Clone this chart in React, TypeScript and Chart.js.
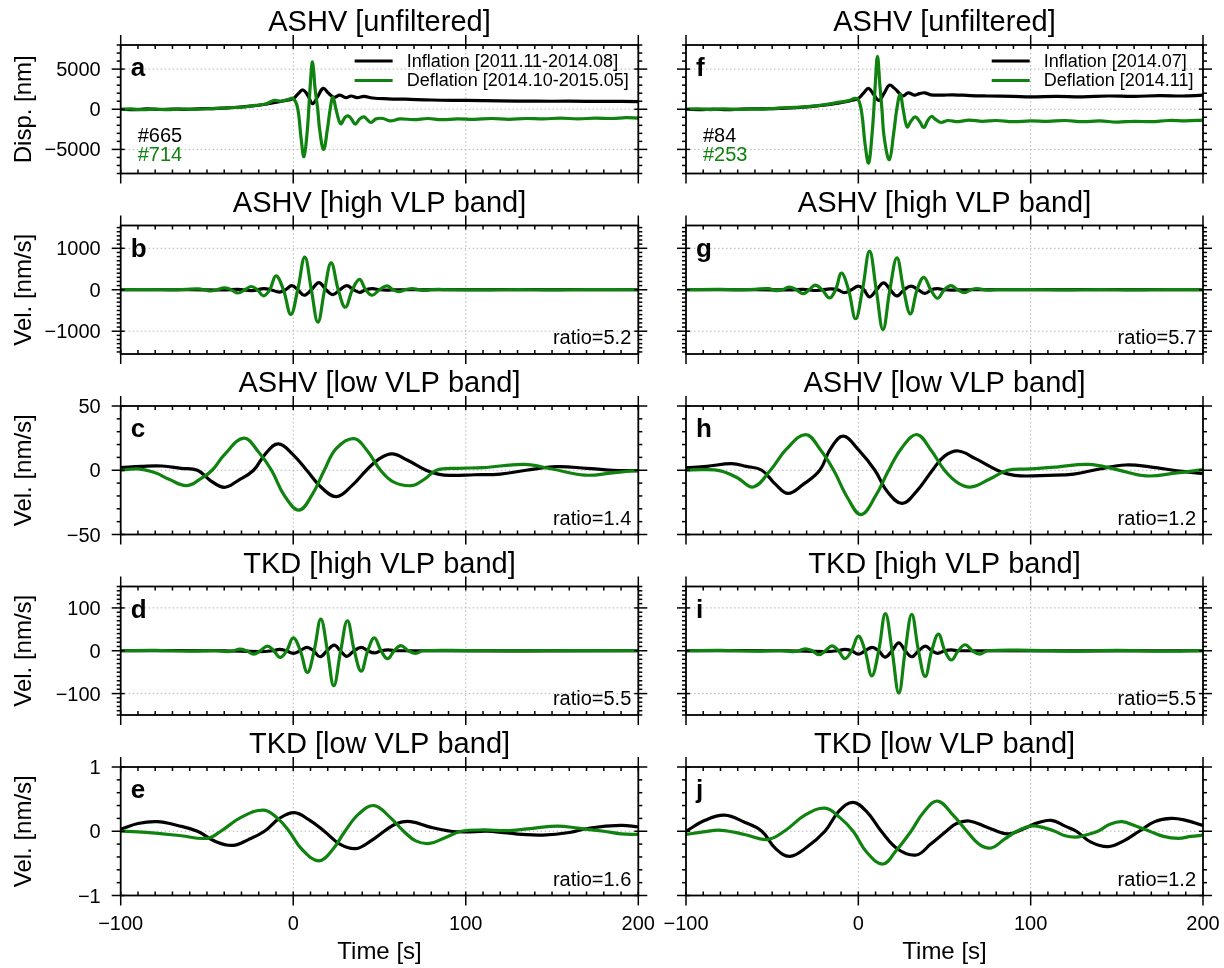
import React, { useEffect, useRef } from 'react';
import { Chart, registerables } from 'chart.js';

Chart.register(...registerables);

const W = 1224;
const H = 968;
const FONT = "'Liberation Sans', Arial, Helvetica, sans-serif";
const BLACK = '#000000';
const GREEN = '#0f820f';
const GRID = '#b5b5b5';
const LINE_W = 3.2;

// ---------- axes / ticks ----------
const timeMin = -100;
const timeMax = 200;
const timeTicks = [-100, 0, 100, 200];
const timeTickLabels = ['−100', '0', '100', '200'];
const timeMinorStep = 10;

const rowYLim = [8000, 1550, 50, 150, 1];
const rowYTicks = [[-5000, 0, 5000], [-1000, 0, 1000], [-50, 0, 50], [-100, 0, 100], [-1, 0, 1]];
const rowYTickLabels = [['−5000', '0', '5000'], ['−1000', '0', '1000'], ['−50', '0', '50'], ['−100', '0', '100'], ['−1', '0', '1']];
const rowYMinor = [1000, 100, 10, 10, 0.2];
const rowYLabel = ['Disp. [nm]', 'Vel. [nm/s]', 'Vel. [nm/s]', 'Vel. [nm/s]', 'Vel. [nm/s]'];

// ---------- data: [time s, value] ----------
const aInflation = [[-100,0],[-92,-60],[-85,40],[-78,-30],[-70,30],[-62,-20],[-55,50],[-48,80],[-40,140],[-32,250],[-25,380],[-18,560],[-12,780],[-6,1020],[0,1330],[2.5,1850],[5.6,2400],[8.5,1700],[11.2,700],[14,1500],[17.3,2600],[20.5,2000],[23.5,1500],[27,1750],[30.5,1450],[33.5,1650],[37,1450],[41,1600],[46,1400],[55,1300],[65,1250],[80,1150],[100,1100],[120,1050],[140,1000],[160,1000],[180,980],[200,960]];
const aDeflation = [[-100,0],[-94,50],[-87,-60],[-80,20],[-73,-50],[-66,30],[-58,-10],[-50,60],[-42,130],[-35,220],[-28,300],[-22,480],[-16,650],[-11,1100],[-7,1000],[-3,1200],[0,1350],[2.5,200],[4.5,-3500],[6.2,-5900],[8,-3000],[9,0],[9.8,2800],[11.2,5900],[12.7,2500],[14.2,0],[15.3,-2500],[17.6,-5000],[19.8,-2500],[21.4,0],[23,1500],[25,-200],[27.5,-1800],[30,-1000],[32,-830],[34,-1300],[36,-1850],[38.5,-1200],[41,-950],[43,-1300],[45,-1650],[48,-1200],[52,-1150],[56,-1450],[62,-1200],[70,-1300],[78,-1150],[86,-1300],[95,-1200],[105,-1250],[115,-1150],[125,-1250],[135,-1150],[145,-1200],[155,-1100],[165,-1200],[175,-1100],[185,-1150],[193,-1050],[200,-1100]];

const bInflation = [[-100,0],[-60,0],[-40,-5],[-32,10],[-24,-20],[-17,25],[-13,0],[-8,-55],[-4.5,0],[-0.8,100],[2.7,0],[6.3,-133],[10.5,0],[14.9,172],[19,0],[23,-117],[27,0],[31,100],[35,0],[38.5,-62],[42,0],[46,25],[50,0],[54,-10],[60,0],[200,0]];
const bDeflation = [[-100,0],[-80,5],[-70,-5],[-62,10],[-55,20],[-51.5,0],[-48,-30],[-44,0],[-40,47],[-36,0],[-32,-78],[-28,0],[-24.3,78],[-20.8,0],[-17.3,-148],[-13.6,0],[-10,336],[-5.7,0],[-1.4,-594],[2.6,0],[6.7,789],[10.5,0],[14.3,-781],[18.2,0],[22,648],[26.1,0],[30.2,-422],[34.3,0],[38.4,250],[42,0],[45.7,-133],[50,0],[54.3,94],[57.7,0],[61.2,-47],[65,0],[69,30],[72.5,0],[76,-15],[80,0],[84,8],[90,0],[110,-5],[130,5],[150,-5],[170,5],[200,0]];

const cInflation = [[-100,2],[-88,3],[-76,3.3],[-65,1.5],[-55.5,0],[-48,-8],[-40,-13.3],[-32,-8],[-23,0],[-16,13],[-8.6,20.5],[0,12],[7.8,0],[16,-13],[25,-20.5],[34,-12],[42.4,0],[50,9],[57.3,12.8],[66,8],[77,0],[84,-3],[91,-4],[105,-3.5],[120,-3],[135,0],[152.6,2.8],[170,1.5],[185,0],[200,-0.5]];
const cDeflation = [[-100,0],[-90,1],[-80,-2],[-72,-7],[-62,-12],[-54,-7],[-47,0],[-40,12],[-28.6,25],[-20,14],[-12.6,0],[-5,-20],[3.3,-31],[11,-19],[18,0],[25,17],[35.3,24.6],[43,15],[50.6,0],[58,-9],[68.6,-12],[76,-7],[83,0],[95,1.5],[110,2],[134,4.6],[150,1],[169,-3.8],[185,-2],[200,0]];

const dInflation = [[-100,0],[-40,0],[-20,-2],[-12,0],[-8,3],[-4,0],[0,-6],[4,0],[8,8],[11.8,0],[15.5,-14],[19.6,0],[23.7,13],[27.3,0],[31,-13],[35.2,0],[39.4,8],[43.2,0],[47,-5],[51,0],[55,2],[60,0],[200,0]];
const dDeflation = [[-100,0],[-80,1],[-60,-1],[-45,0],[-38,-2],[-34.5,0],[-31,4],[-27,0],[-23,-8],[-19,0],[-15,11],[-11.3,0],[-7.6,-15.5],[-3.8,0],[0,30],[4.1,0],[8.2,-50.6],[12.1,0],[16,74],[19.8,0],[23.5,-81.7],[27.5,0],[31.4,70],[35.4,0],[39.4,-47.5],[43.2,0],[47,30],[50.9,0],[54.7,-18.7],[58.5,0],[62.4,12],[66.7,0],[71,-6],[75,0],[100,0.5],[130,-0.5],[160,0.5],[200,0]];

const eInflation = [[-100,0.03],[-90,0.12],[-79,0.15],[-67,0.09],[-55.5,0],[-45,-0.16],[-35,-0.22],[-26,-0.13],[-16.7,0],[-8,0.2],[0.6,0.29],[9,0.18],[18,0],[27,-0.2],[36.3,-0.27],[45,-0.15],[52.7,0],[60,0.12],[68,0.15],[80,0.06],[91.4,0],[100,-0.01],[112,0],[122,-0.02],[133,-0.05],[144.5,-0.06],[160,-0.02],[172,0.05],[189.8,0.09],[200,0.07]];
const eDeflation = [[-100,0],[-90,-0.01],[-80,-0.03],[-65,-0.07],[-50,-0.11],[-42,0],[-30,0.22],[-17,0.33],[-9,0.2],[-2.4,0],[5,-0.28],[14.9,-0.46],[23,-0.28],[30,0],[38,0.27],[46.9,0.4],[56,0.22],[64,0],[71,-0.15],[79,-0.19],[88,-0.1],[97.5,0],[110,0.02],[125,0.01],[140,0.05],[153,0.08],[165,0.05],[180,0],[190,-0.04],[200,-0.05]];

const fInflation = [[-100,0],[-92,-40],[-84,30],[-76,-50],[-68,20],[-60,40],[-52,60],[-44,120],[-36,200],[-28,330],[-20,500],[-12,760],[-5,1050],[0,1350],[3,2000],[5.9,2600],[9,1800],[12,1100],[15,2000],[18,3000],[21,2600],[24,1950],[26,1650],[29,2050],[32.5,1750],[35.5,1950],[38.5,2050],[42,1800],[48,1750],[55,1800],[65,1700],[75,1650],[90,1600],[100,1550],[115,1600],[130,1550],[145,1650],[160,1600],[175,1700],[188,1650],[200,1750]];
const fDeflation = [[-100,0],[-93,60],[-86,-40],[-78,40],[-70,-30],[-62,50],[-55,20],[-48,120],[-40,220],[-32,280],[-25,420],[-18,600],[-12,850],[-6,1050],[-2,1350],[0,1200],[2,-500],[4,-4500],[6,-6700],[8,-3000],[9,0],[9.8,3000],[11.1,6600],[12.5,3000],[13.7,0],[15,-3500],[18,-6280],[20.5,-3000],[22.3,0],[24.3,1860],[26,0],[28.3,-2190],[30.5,-1500],[33,-950],[35.5,-1500],[38,-2270],[40.3,-1400],[42.4,-900],[45,-1300],[48,-1650],[52,-1400],[58,-1550],[64,-1350],[72,-1500],[80,-1400],[90,-1550],[100,-1450],[110,-1500],[120,-1400],[130,-1550],[140,-1450],[150,-1600],[160,-1500],[170,-1550],[180,-1400],[190,-1450],[200,-1350]];

const gInflation = [[-100,0],[-60,0],[-40,-5],[-32,8],[-24,-18],[-16,22],[-12,0],[-8,-70],[-4,0],[0,87],[3.2,0],[6.5,-173],[10.6,0],[14.7,165],[18.5,0],[22.4,-150],[26.5,0],[30.6,87],[34.7,0],[38.8,-87],[42.4,0],[46,25],[50,0],[54,-10],[60,0],[200,0]];
const gDeflation = [[-100,0],[-80,8],[-70,-5],[-60,10],[-52,25],[-48,-20],[-44,0],[-40,63],[-36,0],[-32,-95],[-28.5,0],[-25,110],[-21,0],[-16.7,-197],[-13.2,0],[-9.8,400],[-5.7,0],[-1.6,-700],[2.4,0],[6.5,930],[10.4,0],[14.3,-960],[18.3,0],[22.4,770],[26.3,0],[30.2,-580],[34.1,0],[38,300],[42,0],[46,-205],[49.9,0],[53.7,100],[57.7,0],[61.6,-70],[65.3,0],[69,30],[72.5,0],[76,-12],[80,0],[100,5],[120,-5],[140,5],[160,-5],[180,5],[200,0]];

const hInflation = [[-100,2],[-88,3],[-73.5,5.2],[-65,3],[-56,0],[-48,-11],[-40.8,-18],[-32,-11],[-22.4,0],[-16,17],[-8.8,26.5],[0,16],[9.6,0],[17,-17],[25.5,-25.8],[34,-16],[43,0],[50,11],[58,15],[68,9],[80.6,0],[87,-3],[94,-4.4],[110,-4],[125,-3],[140,1],[155,4.1],[170,2.5],[185,-0.5],[200,-2.6]];
const hDeflation = [[-100,0],[-90,0.5],[-80,-0.5],[-70,-6],[-61,-13],[-51,0],[-42,16],[-30.6,27.8],[-22,16],[-14.3,0],[-6,-22],[1.6,-34.5],[10,-20],[17.6,0],[25,17],[33.9,27.8],[42,16],[50,0],[58,-10],[65.7,-13],[76,-7],[86.7,0],[100,1],[115,2.5],[133.7,4.6],[150,0.5],[167,-4.4],[185,-2],[200,0.5]];

const iInflation = [[-100,0],[-40,0],[-20,-2],[-12,0],[-8,3],[-4,0],[0,-8],[4,0],[8,8],[11.8,0],[15.5,-15],[19.5,0],[23.5,18.5],[27.2,0],[31,-14],[35,0],[39,11],[42.5,0],[46,-6],[50,0],[54,2],[58,0],[200,0]];
const iDeflation = [[-100,0],[-80,1],[-60,-1],[-45,0],[-38,-2],[-34.5,0],[-30.6,4.6],[-26.8,0],[-22.9,-9.3],[-19.1,0],[-15.3,11.6],[-11.5,0],[-7.8,-18.5],[-3.9,0],[0,34],[3.9,0],[7.8,-58.7],[11.8,0],[15.7,86.5],[19.6,0],[23.5,-98.8],[27.2,0],[31,85],[34.9,0],[38.8,-60],[42.6,0],[46.5,38.6],[50.2,0],[54,-21.6],[58,0],[62,14],[66.2,0],[70.4,-7.7],[75,0],[100,1],[125,-1],[150,1],[175,-1],[200,0.5]];

const jInflation = [[-100,0],[-89,0.17],[-77.6,0.25],[-66,0.14],[-56,0],[-48,-0.27],[-39.8,-0.39],[-30,-0.25],[-19.4,0],[-11,0.32],[-3,0.45],[5,0.3],[13.3,0],[23,-0.28],[33.7,-0.37],[42,-0.2],[51,0],[57,0.12],[64.3,0.16],[75,0.06],[86.7,-0.04],[96,0.04],[104,0.13],[112,0.17],[120,0.08],[126.5,0],[135,-0.17],[145,-0.24],[154,-0.15],[163,0],[172,0.15],[181.6,0.2],[190,0.17],[200,0.09]];
const jDeflation = [[-100,-0.05],[-90,-0.01],[-79.6,0.015],[-66,-0.05],[-53,-0.13],[-43,0],[-31,0.25],[-19.4,0.36],[-11,0.22],[-3,0],[5,-0.33],[14.3,-0.51],[22,-0.3],[30.6,0],[38,0.3],[46,0.47],[55,0.25],[63,0],[70,-0.2],[77,-0.26],[85,-0.12],[92,0],[100,0.08],[107,0.06],[114,0],[120,-0.07],[126.5,-0.09],[133,-0.05],[139,0],[146,0.11],[153,0.15],[161,0.08],[169,0],[177,-0.08],[185.7,-0.11],[193,-0.08],[200,-0.06]];

// ---------- panel layout ----------
const colLeft = [120.7, 686];
const colRight = [638.3, 1203];
const rowTop = [45, 225.5, 406, 586.5, 767];
const rowHeight = 128.5;

type Panel = {
  id: string; col: number; row: number; title: string;
  inflation: number[][]; deflation: number[][];
  ratio?: string; counts?: string[]; legend?: string[];
};

const panels: Panel[] = [
  { id: 'a', col: 0, row: 0, title: 'ASHV [unfiltered]', inflation: aInflation, deflation: aDeflation, counts: ['#665', '#714'], legend: ['Inflation [2011.11-2014.08]', 'Deflation [2014.10-2015.05]'] },
  { id: 'b', col: 0, row: 1, title: 'ASHV [high VLP band]', inflation: bInflation, deflation: bDeflation, ratio: 'ratio=5.2' },
  { id: 'c', col: 0, row: 2, title: 'ASHV [low VLP band]', inflation: cInflation, deflation: cDeflation, ratio: 'ratio=1.4' },
  { id: 'd', col: 0, row: 3, title: 'TKD [high VLP band]', inflation: dInflation, deflation: dDeflation, ratio: 'ratio=5.5' },
  { id: 'e', col: 0, row: 4, title: 'TKD [low VLP band]', inflation: eInflation, deflation: eDeflation, ratio: 'ratio=1.6' },
  { id: 'f', col: 1, row: 0, title: 'ASHV [unfiltered]', inflation: fInflation, deflation: fDeflation, counts: ['#84', '#253'], legend: ['Inflation [2014.07]', 'Deflation [2014.11]'] },
  { id: 'g', col: 1, row: 1, title: 'ASHV [high VLP band]', inflation: gInflation, deflation: gDeflation, ratio: 'ratio=5.7' },
  { id: 'h', col: 1, row: 2, title: 'ASHV [low VLP band]', inflation: hInflation, deflation: hDeflation, ratio: 'ratio=1.2' },
  { id: 'i', col: 1, row: 3, title: 'TKD [high VLP band]', inflation: iInflation, deflation: iDeflation, ratio: 'ratio=5.5' },
  { id: 'j', col: 1, row: 4, title: 'TKD [low VLP band]', inflation: jInflation, deflation: jDeflation, ratio: 'ratio=1.2' },
];

function line(ctx: CanvasRenderingContext2D, x1: number, y1: number, x2: number, y2: number) {
  ctx.beginPath();
  ctx.moveTo(x1, y1);
  ctx.lineTo(x2, y2);
  ctx.stroke();
}

function makePlugin(p: Panel) {
  const ylim = rowYLim[p.row];
  const yTicks = rowYTicks[p.row];
  const yMinor = rowYMinor[p.row];
  return {
    id: 'panelDecor' + p.id,
    beforeDatasetsDraw(chart: any) {
      const ctx: CanvasRenderingContext2D = chart.ctx;
      const { left, right, top, bottom } = chart.chartArea;
      const xs = chart.scales.x;
      const ys = chart.scales.y;
      ctx.save();
      ctx.strokeStyle = GRID;
      ctx.lineWidth = 1;
      ctx.setLineDash([1.5, 2.5]);
      timeTicks.forEach((t) => {
        if (t > timeMin && t < timeMax) {
          const px = xs.getPixelForValue(t);
          line(ctx, px, top, px, bottom);
        }
      });
      yTicks.forEach((v) => {
        if (Math.abs(v) < ylim * 0.999) {
          const py = ys.getPixelForValue(v);
          line(ctx, left, py, right, py);
        }
      });
      ctx.restore();
    },
    afterDatasetsDraw(chart: any) {
      const ctx: CanvasRenderingContext2D = chart.ctx;
      const { left, right, top, bottom } = chart.chartArea;
      const xs = chart.scales.x;
      const ys = chart.scales.y;
      ctx.save();
      ctx.strokeStyle = BLACK;
      ctx.lineWidth = 1.8;
      ctx.strokeRect(left, top, right - left, bottom - top);
      ctx.lineWidth = 1.5;
      // x ticks
      for (let k = 0; k <= (timeMax - timeMin) / timeMinorStep; k++) {
        const t = timeMin + k * timeMinorStep;
        const px = xs.getPixelForValue(t);
        const major = timeTicks.some((m) => Math.abs(m - t) < 1e-6);
        if (major) {
          line(ctx, px, top - 10, px, top + 4);
          line(ctx, px, bottom - 4, px, bottom + 10);
        } else {
          line(ctx, px, top, px, top + 4);
          line(ctx, px, bottom - 4, px, bottom);
        }
      }
      // y ticks
      const nMin = Math.ceil(-ylim / yMinor - 1e-9);
      const nMax = Math.floor(ylim / yMinor + 1e-9);
      for (let k = nMin; k <= nMax; k++) {
        const v = k * yMinor;
        if (yTicks.some((m) => Math.abs(m - v) < yMinor * 1e-3)) continue;
        const py = ys.getPixelForValue(v);
        line(ctx, left - 4, py, left, py);
        line(ctx, right, py, right + 4, py);
      }
      yTicks.forEach((v) => {
        const py = ys.getPixelForValue(v);
        line(ctx, left - 9, py, left + 4, py);
        line(ctx, right - 4, py, right + 9, py);
      });

      ctx.fillStyle = BLACK;
      // y tick labels (left column only)
      if (p.col === 0) {
        ctx.font = `20px ${FONT}`;
        ctx.textAlign = 'right';
        ctx.textBaseline = 'alphabetic';
        yTicks.forEach((v, idx) => {
          const py = ys.getPixelForValue(v);
          ctx.fillText(rowYTickLabels[p.row][idx], left - 20, py + 7);
        });
        // y axis label
        ctx.save();
        ctx.translate(31, (top + bottom) / 2);
        ctx.rotate(-Math.PI / 2);
        ctx.font = `24px ${FONT}`;
        ctx.textAlign = 'center';
        ctx.fillText(rowYLabel[p.row], 0, 0);
        ctx.restore();
      }
      // x tick labels (bottom row only)
      if (p.row === 4) {
        ctx.font = `20px ${FONT}`;
        ctx.textAlign = 'center';
        ctx.textBaseline = 'alphabetic';
        timeTicks.forEach((t, idx) => {
          ctx.fillText(timeTickLabels[idx], xs.getPixelForValue(t), bottom + 34.5);
        });
        ctx.font = `24px ${FONT}`;
        ctx.fillText('Time [s]', (left + right) / 2, bottom + 63);
      }
      // title
      ctx.font = `29px ${FONT}`;
      ctx.textAlign = 'center';
      ctx.textBaseline = 'alphabetic';
      ctx.fillText(p.title, (left + right) / 2, top - 14);
      // panel letter
      ctx.font = `bold 26px ${FONT}`;
      ctx.textAlign = 'left';
      ctx.fillText(p.id, left + 10, top + 31);
      // ratio
      if (p.ratio) {
        ctx.font = `20px ${FONT}`;
        ctx.textAlign = 'right';
        ctx.fillText(p.ratio, right - 7, bottom - 10);
      }
      // event counts
      if (p.counts) {
        ctx.font = `20px ${FONT}`;
        ctx.textAlign = 'left';
        ctx.fillStyle = BLACK;
        ctx.fillText(p.counts[0], left + 17, bottom - 32);
        ctx.fillStyle = GREEN;
        ctx.fillText(p.counts[1], left + 17, bottom - 13);
      }
      // legend
      if (p.legend) {
        ctx.font = `18px ${FONT}`;
        ctx.textAlign = 'left';
        ctx.textBaseline = 'middle';
        const wMax = Math.max(...p.legend.map((s) => ctx.measureText(s).width));
        const tx = right - 9.5 - wMax;
        const colors = [BLACK, GREEN];
        p.legend.forEach((s, idx) => {
          const cy = top + 16 + idx * 19.5;
          ctx.strokeStyle = colors[idx];
          ctx.lineWidth = LINE_W;
          line(ctx, tx - 52, cy, tx - 14, cy);
          ctx.fillStyle = BLACK;
          ctx.fillText(s, tx, cy + 1);
        });
      }
      ctx.restore();
    },
  };
}

function PanelChart({ p }: { p: Panel }) {
  const ref = useRef<HTMLCanvasElement | null>(null);
  useEffect(() => {
    if (!ref.current) return;
    const left = colLeft[p.col];
    const right = colRight[p.col];
    const top = rowTop[p.row];
    const bottom = top + rowHeight;
    const ylim = rowYLim[p.row];
    const toXY = (arr: number[][]) => arr.map(([x, y]) => ({ x, y }));
    const chart = new Chart(ref.current, {
      type: 'line',
      data: {
        datasets: [
          {
            label: 'Deflation',
            data: toXY(p.deflation),
            borderColor: GREEN,
            borderWidth: LINE_W,
            pointRadius: 0,
            tension: 0.4,
            fill: false,
            order: 0,
          },
          {
            label: 'Inflation',
            data: toXY(p.inflation),
            borderColor: BLACK,
            borderWidth: LINE_W,
            pointRadius: 0,
            tension: 0.4,
            fill: false,
            order: 1,
          },
        ],
      },
      options: {
        responsive: false,
        animation: false,
        events: [],
        layout: { padding: { left, top, right: W - right, bottom: H - bottom } },
        scales: {
          x: { type: 'linear', min: timeMin, max: timeMax, display: false },
          y: { type: 'linear', min: -ylim, max: ylim, display: false },
        },
        plugins: { legend: { display: false }, tooltip: { enabled: false }, title: { display: false } },
      },
      plugins: [makePlugin(p)],
    } as any);
    return () => chart.destroy();
  }, [p]);
  return <canvas ref={ref} width={W} height={H} style={{ position: 'absolute', left: 0, top: 0, width: W, height: H }} />;
}

export default function App() {
  return (
    <div style={{ position: 'absolute', left: 0, top: 0, width: W, height: H, background: '#ffffff', overflow: 'hidden' }}>
      {panels.map((p) => (
        <PanelChart key={p.id} p={p} />
      ))}
    </div>
  );
}
